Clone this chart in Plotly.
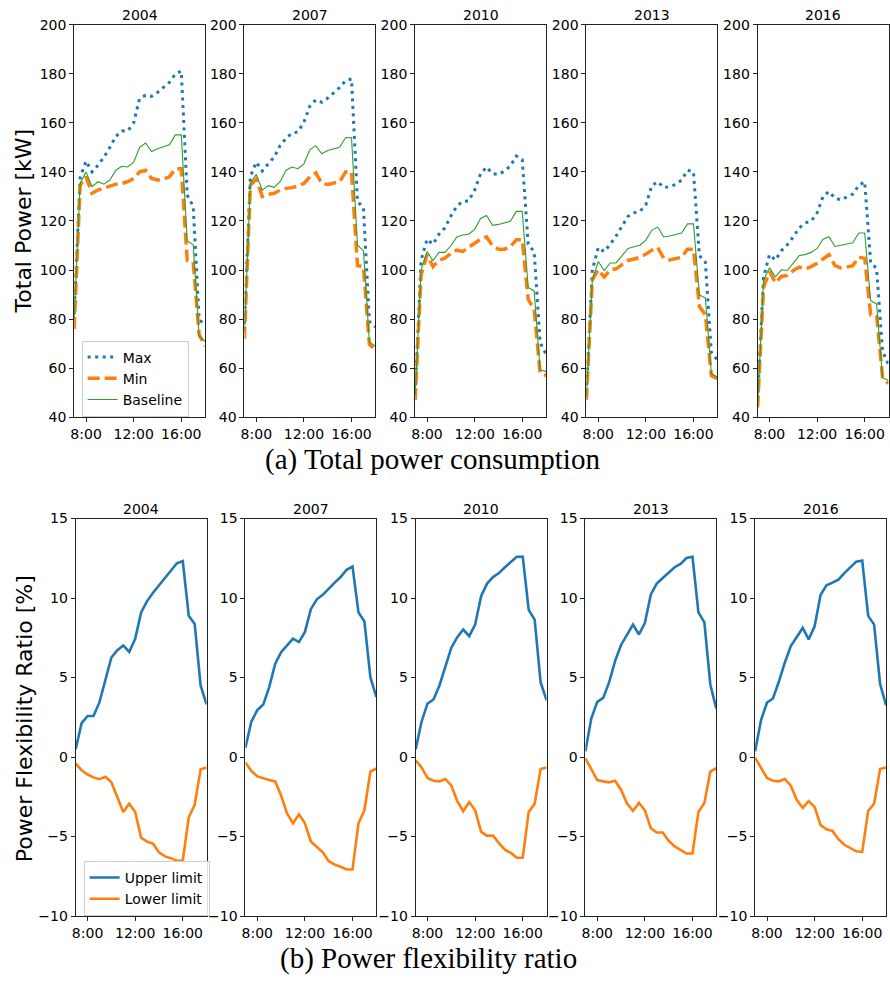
import plotly.graph_objects as go

times = ["7:00", "7:30", "8:00", "8:30", "9:00", "9:30", "10:00", "10:30", "11:00", "11:30",
         "12:00", "12:30", "13:00", "13:30", "14:00", "14:30", "15:00", "15:30", "16:00",
         "16:30", "17:00", "17:30", "18:00"]
years = ["2004", "2007", "2010", "2013", "2016"]
x_tick_labels = ["8:00", "12:00", "16:00"]
power_ticks = [40, 60, 80, 100, 120, 140, 160, 180, 200]
ratio_ticks = [-10, -5, 0, 5, 10, 15]

# (a) Total power consumption [kW]
max_2004 = [82, 137.7, 144.4, 140, 142.7, 146, 150, 154.5, 156.7, 156.7, 160, 170, 171.2, 170.8, 172.4, 174.5, 176.5, 179.9, 181.1, 130.5, 126, 79.8, 77.7]
min_2004 = [76, 134.6, 138, 131.3, 132.6, 133.3, 134, 135, 135.3, 136, 137.3, 140, 140.7, 137.3, 136.7, 137, 138, 141.3, 141.3, 103.9, 103.2, 73.7, 69]
base_2004 = [80, 135.3, 140, 134, 136, 135, 136.7, 140.7, 142.3, 142, 144, 150, 151.8, 148.3, 149.4, 150.3, 151.1, 155.1, 155.1, 111.9, 110.3, 72.8, 71]

max_2007 = [78, 138.2, 144, 140.4, 143.3, 146, 150.7, 153.7, 155.8, 156.3, 160.3, 166.8, 169.4, 168.4, 170.1, 172.1, 174.4, 177.2, 177.9, 128, 125.5, 79, 76.8]
min_2007 = [72, 134.6, 137, 130, 130.9, 131.3, 132.6, 133.3, 133.6, 134.2, 135.3, 138, 139.6, 135.3, 134.9, 135.3, 136, 140, 140, 101.8, 101.4, 69.7, 67.7]
base_2007 = [75, 135.3, 139, 132.6, 134.4, 133.7, 136, 140.7, 142, 141.3, 143.3, 149, 150.7, 147.4, 148.7, 149.4, 150, 154, 153.9, 110.1, 107.9, 70.7, 69]

max_2010 = [50, 104, 112.6, 110.5, 114.6, 117.2, 122, 126, 128, 128.2, 132.6, 139.3, 142, 139.3, 139, 140.3, 142.4, 146.5, 145, 110.5, 107.5, 70.4, 65.7]
min_2010 = [47, 98, 106.3, 101.4, 104, 104.8, 106.8, 108.1, 107.6, 109.2, 110.8, 112.6, 113.5, 109.9, 108.5, 108.5, 109.5, 112.3, 112.3, 88, 84, 58, 57]
base_2010 = [49, 100, 107.5, 103.9, 107.2, 107.2, 109.9, 113.5, 114.3, 114.6, 116.6, 121, 122.2, 118.2, 118.6, 119.2, 119.9, 123.9, 123.9, 92.9, 91.5, 59.4, 58.6]

max_2013 = [50, 100, 109.2, 107.5, 110.5, 113.9, 117.9, 121.9, 123.3, 123.9, 126.6, 134.4, 136, 133.6, 134, 134.9, 136.7, 140.7, 140, 105.9, 103.2, 66.4, 63.3]
min_2013 = [47, 96, 100.1, 97.2, 100.1, 100.5, 102.2, 103.9, 104.5, 105.2, 106.5, 108.1, 109.2, 104.8, 104.1, 104.5, 105.2, 108.5, 108.5, 85.1, 81.8, 57, 55.7]
base_2013 = [48, 96, 103.5, 99.8, 102.9, 102.9, 105.9, 108.8, 109.5, 110.1, 112.2, 116.3, 117.5, 113.5, 113.9, 114.6, 115.1, 118.8, 118.8, 89.8, 88.7, 57.9, 56.3]

max_2016 = [47, 97, 106.3, 104.1, 107.9, 110.3, 113.5, 117.2, 119.2, 119.9, 123.3, 130, 132, 129.3, 128.6, 129.7, 131, 134.5, 136, 103.2, 100.5, 67, 61.4]
min_2016 = [44, 93, 99.4, 94.8, 97.4, 97.8, 99.8, 101.2, 100.5, 101.4, 102.8, 104.5, 106.3, 101.8, 100.9, 101.2, 101.8, 105.2, 104.8, 81.8, 81.4, 56.3, 53.7]
base_2016 = [45, 95.8, 100.9, 97.2, 100.1, 99.8, 102.8, 105.9, 106.3, 107.2, 108.8, 112.6, 113.6, 109.6, 110.1, 110.5, 111.1, 115.1, 115.1, 87.5, 86.2, 56.1, 55]

# (b) Power flexibility ratio [%]
upper_2004 = [0.5, 2.13, 2.58, 2.58, 3.45, 4.86, 6.26, 6.72, 7.02, 6.61, 7.44, 9.09, 9.81, 10.33, 10.81, 11.26, 11.72, 12.19, 12.33, 8.89, 8.37, 4.49, 3.31]
lower_2004 = [-0.41, -0.83, -1.1, -1.28, -1.39, -1.24, -1.59, -2.59, -3.46, -2.94, -3.46, -5.07, -5.32, -5.45, -6.0, -6.25, -6.36, -6.52, -6.52, -3.79, -3.0, -0.77, -0.66]
upper_2007 = [0.58, 2.23, 2.95, 3.3, 4.4, 5.85, 6.6, 7.0, 7.45, 7.23, 7.87, 9.3, 9.92, 10.2, 10.6, 10.97, 11.32, 11.78, 11.98, 9.1, 8.53, 5.02, 3.78]
lower_2007 = [-0.35, -0.87, -1.22, -1.34, -1.45, -1.53, -2.42, -3.55, -4.17, -3.6, -4.17, -5.31, -5.62, -5.99, -6.55, -6.76, -6.9, -7.07, -7.07, -4.17, -3.35, -0.91, -0.72]
upper_2010 = [0.48, 2.23, 3.37, 3.62, 4.5, 5.74, 6.88, 7.54, 8.02, 7.6, 8.33, 10.12, 10.91, 11.32, 11.57, 11.94, 12.25, 12.6, 12.6, 9.26, 8.64, 4.71, 3.57]
lower_2010 = [-0.2, -0.66, -1.32, -1.49, -1.53, -1.38, -1.8, -2.77, -3.41, -2.83, -3.35, -4.69, -4.96, -4.94, -5.41, -5.83, -6.03, -6.34, -6.34, -3.45, -2.93, -0.76, -0.66]
upper_2013 = [0.37, 2.44, 3.47, 3.72, 4.71, 6.05, 7.05, 7.71, 8.33, 7.71, 8.43, 10.23, 10.91, 11.26, 11.63, 11.94, 12.15, 12.52, 12.6, 9.1, 8.47, 4.55, 3.06]
lower_2013 = [-0.08, -0.76, -1.45, -1.53, -1.59, -1.49, -2.07, -2.93, -3.39, -2.89, -3.35, -4.48, -4.75, -4.75, -5.27, -5.62, -5.83, -6.07, -6.07, -3.45, -2.89, -0.91, -0.7]
upper_2016 = [0.37, 2.33, 3.43, 3.68, 4.75, 5.95, 6.98, 7.56, 8.12, 7.4, 8.22, 10.19, 10.81, 10.97, 11.16, 11.57, 11.94, 12.29, 12.36, 8.88, 8.33, 4.61, 3.26]
lower_2016 = [-0.04, -0.66, -1.32, -1.49, -1.53, -1.38, -1.8, -2.69, -3.2, -2.77, -3.14, -4.28, -4.55, -4.65, -5.17, -5.52, -5.72, -5.93, -5.97, -3.39, -2.93, -0.76, -0.66]

power_series = {
    "2004": (max_2004, min_2004, base_2004),
    "2007": (max_2007, min_2007, base_2007),
    "2010": (max_2010, min_2010, base_2010),
    "2013": (max_2013, min_2013, base_2013),
    "2016": (max_2016, min_2016, base_2016),
}
ratio_series = {
    "2004": (upper_2004, lower_2004),
    "2007": (upper_2007, lower_2007),
    "2010": (upper_2010, lower_2010),
    "2013": (upper_2013, lower_2013),
    "2016": (upper_2016, lower_2016),
}


def to_hours(t):
    h, m = t.split(":")
    return int(h) + int(m) / 60.0


hours = [to_hours(t) for t in times]
tick_hours = [to_hours(t) for t in x_tick_labels]

W, H = 890, 985
BLUE, ORANGE, GREEN = "#1f77b4", "#ff7f0e", "#2ca02c"
FONT = "DejaVu Sans"

top_lefts = [70.5, 241.5, 413, 585, 757]
bot_lefts = [72, 242.5, 413.5, 584, 754.5]
panel_w = 131.5
top_y = (17, 416)
bot_y = (519, 923)

fig = go.Figure()
layout = {}
annotations = []


def axis_common():
    return dict(
        showline=True, mirror=True, linecolor="#222222", linewidth=1,
        ticks="outside", ticklen=4, tickwidth=1, tickcolor="#222222",
        showgrid=False, zeroline=False,
        tickfont=dict(family=FONT, size=14, color="black"),
    )


for i, yr in enumerate(years):
    # top row
    n = i + 1
    xa = "x" if n == 1 else f"x{n}"
    ya = "y" if n == 1 else f"y{n}"
    mx, mn, bs = power_series[yr]
    show = (i == 0)
    fig.add_trace(go.Scatter(x=hours, y=mx, xaxis=xa, yaxis=ya, mode="lines", name="Max",
                             line=dict(color=BLUE, width=3, dash="3px,4.5px"),
                             showlegend=show, legend="legend"))
    fig.add_trace(go.Scatter(x=hours, y=mn, xaxis=xa, yaxis=ya, mode="lines", name="Min",
                             line=dict(color=ORANGE, width=3.5, dash="12px,5px"),
                             showlegend=show, legend="legend"))
    fig.add_trace(go.Scatter(x=hours, y=bs, xaxis=xa, yaxis=ya, mode="lines", name="Baseline",
                             line=dict(color=GREEN, width=1.1),
                             showlegend=show, legend="legend"))
    xd = [top_lefts[i] / W, (top_lefts[i] + panel_w) / W]
    yd = [1 - top_y[1] / H, 1 - top_y[0] / H]
    xk = "xaxis" if n == 1 else f"xaxis{n}"
    yk = "yaxis" if n == 1 else f"yaxis{n}"
    layout[xk] = dict(axis_common(), domain=xd, anchor=ya, range=[hours[0], hours[-1]],
                      tickvals=tick_hours, ticktext=x_tick_labels)
    layout[yk] = dict(axis_common(), domain=yd, anchor=xa, range=[40, 200],
                      tickvals=power_ticks, ticktext=[str(v) for v in power_ticks])
    annotations.append(dict(text=yr, x=(xd[0] + xd[1]) / 2, y=yd[1], xref="paper", yref="paper",
                            xanchor="center", yanchor="bottom", showarrow=False, yshift=0,
                            font=dict(family=FONT, size=14, color="black")))

    # bottom row
    n2 = i + 6
    xa2, ya2 = f"x{n2}", f"y{n2}"
    up, lo = ratio_series[yr]
    fig.add_trace(go.Scatter(x=hours, y=up, xaxis=xa2, yaxis=ya2, mode="lines", name="Upper limit",
                             line=dict(color=BLUE, width=2.6), showlegend=show, legend="legend2"))
    fig.add_trace(go.Scatter(x=hours, y=lo, xaxis=xa2, yaxis=ya2, mode="lines", name="Lower limit",
                             line=dict(color=ORANGE, width=2.6), showlegend=show, legend="legend2"))
    xd2 = [bot_lefts[i] / W, (bot_lefts[i] + panel_w) / W]
    yd2 = [1 - bot_y[1] / H, 1 - bot_y[0] / H]
    layout[f"xaxis{n2}"] = dict(axis_common(), domain=xd2, anchor=ya2, range=[hours[0], hours[-1]],
                                tickvals=tick_hours, ticktext=x_tick_labels)
    layout[f"yaxis{n2}"] = dict(axis_common(), domain=yd2, anchor=xa2, range=[-10, 15],
                                tickvals=ratio_ticks,
                                ticktext=[("\u2212" + str(-v)) if v < 0 else str(v) for v in ratio_ticks])
    annotations.append(dict(text=yr, x=(xd2[0] + xd2[1]) / 2, y=yd2[1], xref="paper", yref="paper",
                            xanchor="center", yanchor="bottom", showarrow=False,
                            font=dict(family=FONT, size=14, color="black")))

# y axis titles
annotations.append(dict(text="Total Power [kW]", x=20 / W, y=1 - 216 / H, xref="paper", yref="paper",
                        textangle=-90, showarrow=False, xanchor="center", yanchor="middle",
                        font=dict(family=FONT, size=22, color="black")))
annotations.append(dict(text="Power Flexibility Ratio [%]", x=20 / W, y=1 - 722 / H, xref="paper",
                        yref="paper", textangle=-90, showarrow=False, xanchor="center", yanchor="middle",
                        font=dict(family=FONT, size=22, color="black")))
# captions
annotations.append(dict(text="(a) Total power consumption", x=430 / W, y=1 - 459 / H, xref="paper",
                        yref="paper", showarrow=False, xanchor="center", yanchor="middle",
                        font=dict(family="Liberation Serif", size=29, color="black")))
annotations.append(dict(text="(b) Power flexibility ratio", x=426 / W, y=1 - 966 / H, xref="paper",
                        yref="paper", showarrow=False, xanchor="center", yanchor="middle",
                        font=dict(family="Liberation Serif", size=29, color="black")))

fig.update_layout(
    width=W, height=H,
    margin=dict(l=0, r=0, t=0, b=0),
    paper_bgcolor="white", plot_bgcolor="white",
    font=dict(family=FONT, color="black"),
    annotations=annotations,
    legend=dict(x=78 / W, y=1 - 338 / H, xanchor="left", yanchor="top",
                bgcolor="rgba(255,255,255,0.85)", bordercolor="#cccccc", borderwidth=1,
                font=dict(family=FONT, size=14, color="black"), itemwidth=30, tracegroupgap=0),
    legend2=dict(x=80 / W, y=1 - 867 / H, xanchor="left", yanchor="top",
                 bgcolor="rgba(255,255,255,0.85)", bordercolor="#cccccc", borderwidth=1,
                 font=dict(family=FONT, size=14, color="black"), itemwidth=30, tracegroupgap=0),
    **layout,
)

fig.write_html("out.html", config={"displayModeBar": False},
               post_script="document.body.style.margin='0';document.body.style.overflow='hidden';")
